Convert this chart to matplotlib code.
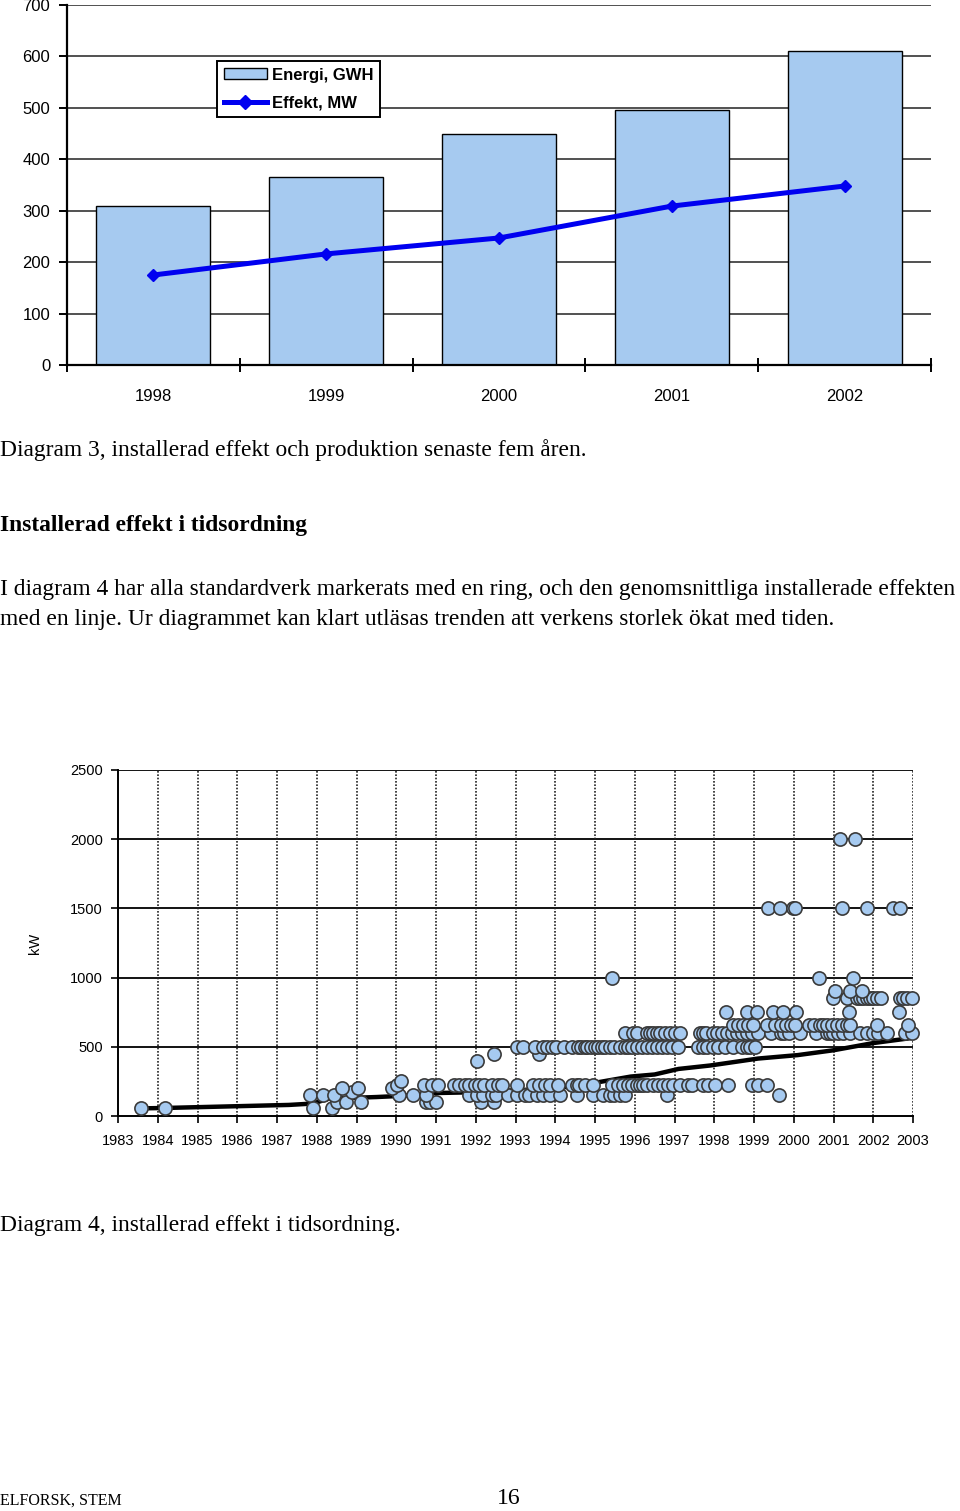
import matplotlib
matplotlib.use("Agg")
import matplotlib.pyplot as plt
from matplotlib.lines import Line2D
from matplotlib.patches import Patch

# Diagram 3: energy and power for the last five years
years_top = ["1998", "1999", "2000", "2001", "2002"]
energi_gwh = [310, 365, 450, 495, 610]
effekt_mw = [175, 216, 247, 309, 348]

# Diagram 4: installation time (decimal year) of each standard turbine, grouped by size
kw_sizes = [55, 100, 150, 175, 200, 225, 250, 400, 450, 500, 600, 660, 750, 850, 900, 1000, 1500, 2000]
years_55 = [1983.58, 1984.18, 1987.91, 1988.39]
years_100 = [1988.52, 1988.74, 1989.12, 1990.76, 1990.84, 1991.01, 1992.14, 1992.47]
years_150 = [1987.84, 1988.16, 1988.44, 1990.08, 1990.43, 1990.76, 1991.84, 1992.02, 1992.17,
             1992.40, 1992.52, 1992.80, 1993.03, 1993.23, 1993.35, 1993.53, 1993.68, 1993.86,
             1994.11, 1994.54, 1994.94, 1995.19, 1995.37, 1995.49, 1995.62, 1995.75, 1996.80,
             1999.63]
years_175 = [1988.89]
years_200 = [1988.64, 1989.05, 1989.90]
years_225 = [1990.03, 1990.71, 1990.91, 1991.04, 1991.46, 1991.59, 1991.72, 1991.84, 1991.97,
             1992.09, 1992.22, 1992.40, 1992.55, 1992.65, 1993.03, 1993.43, 1993.60, 1993.73,
             1993.86, 1994.06, 1994.41, 1994.54, 1994.61, 1994.74, 1994.94, 1995.42, 1995.57,
             1995.70, 1995.82, 1995.92, 1996.05, 1996.12, 1996.20, 1996.32, 1996.45, 1996.58,
             1996.70, 1996.83, 1996.95, 1997.13, 1997.33, 1997.43, 1997.71, 1997.84, 1998.01,
             1998.34, 1998.94, 1999.10, 1999.32]
years_250 = [1990.13]
years_400 = [1992.02]
years_450 = [1992.45, 1993.58]
years_500 = [1993.05, 1993.20, 1993.48, 1993.68, 1993.78, 1993.93, 1994.03, 1994.23, 1994.41,
             1994.56, 1994.66, 1994.74, 1994.81, 1994.91, 1994.99, 1995.07, 1995.17, 1995.24,
             1995.37, 1995.49, 1995.62, 1995.75, 1995.82, 1995.92, 1996.05, 1996.17, 1996.30,
             1996.43, 1996.55, 1996.68, 1996.80, 1996.93, 1997.08, 1997.58, 1997.71, 1997.81,
             1997.96, 1998.09, 1998.26, 1998.47, 1998.69, 1998.82, 1998.89, 1999.02]
years_600 = [1995.75, 1995.95, 1996.05, 1996.30, 1996.38, 1996.45, 1996.55, 1996.63, 1996.75,
             1996.88, 1997.01, 1997.13, 1997.64, 1997.72, 1997.79, 1997.96, 1998.06, 1998.19,
             1998.32, 1998.44, 1998.57, 1998.69, 1998.82, 1998.94, 1999.10, 1999.44, 1999.69,
             1999.76, 1999.89, 2000.15, 2000.57, 2000.83, 2000.91, 2000.98, 2001.11, 2001.24,
             2001.41, 2001.67, 2001.84, 2001.99, 2002.12, 2002.35, 2002.80, 2002.97]
years_660 = [1998.47, 1998.59, 1998.72, 1998.84, 1998.97, 1999.32, 1999.52, 1999.69, 1999.81,
             1999.94, 2000.02, 2000.39, 2000.52, 2000.65, 2000.73, 2000.83, 2000.96, 2001.09,
             2001.21, 2001.34, 2001.41, 2002.09, 2002.87]
years_750 = [1998.29, 1998.82, 1999.07, 1999.47, 1999.73, 2000.05, 2001.39, 2002.65]
years_850 = [2000.98, 2001.34, 2001.59, 2001.67, 2001.74, 2001.84, 2001.92, 2001.99, 2002.09,
             2002.19, 2002.67, 2002.75, 2002.85, 2002.97]
years_900 = [2001.04, 2001.41, 2001.72]
years_1000 = [1995.42, 2000.63, 2001.49]
years_1500 = [1999.35, 1999.65, 1999.98, 2000.03, 2001.21, 2001.84, 2002.50, 2002.67]
years_2000 = [2001.16, 2001.54]

# running average installed power
avg_years = [1983.58, 1984.18, 1987.30, 1987.90, 1988.30, 1989.50, 1990.10, 1991.00, 1991.70,
             1993.20, 1994.30, 1995.00, 1995.90, 1996.50, 1997.10, 1997.90, 1999.10, 2000.10,
             2001.00, 2002.00, 2002.95]
avg_kw = [55, 58, 80, 90, 125, 137, 145, 166, 170, 188, 210, 240, 285, 300, 340, 365, 415, 440,
          475, 527, 563]

size_years = [years_55, years_100, years_150, years_175, years_200, years_225, years_250,
              years_400, years_450, years_500, years_600, years_660, years_750, years_850,
              years_900, years_1000, years_1500, years_2000]

W, H = 960, 1511
fig = plt.figure(figsize=(W / 100, H / 100), dpi=100)
sans = "Liberation Sans"
serif = "Liberation Serif"
light_blue = "#A6CAF0"
body = 16.9


def fy(py):
    return 1 - py / H


# ---------- Diagram 3 ----------
ax1 = fig.add_axes([67 / W, fy(365), 864 / W, 360 / H])
xs = [i + 0.5 for i in range(len(years_top))]
ax1.bar(xs, energi_gwh, width=0.66, color=light_blue, edgecolor="black", linewidth=1.0, zorder=2)
ax1.plot(xs, effekt_mw, color="#0000F0", lw=3.6, marker="D", markersize=6, zorder=3)
ax1.set_xlim(0, 5)
ax1.set_ylim(0, 700)
ax1.set_yticks(range(0, 701, 100))
ax1.yaxis.grid(True, color="#222222", lw=1.1, zorder=0)
ax1.set_axisbelow(True)
for s in ["top", "right"]:
    ax1.spines[s].set_visible(False)
ax1.spines["left"].set_linewidth(1.6)
ax1.spines["bottom"].set_linewidth(1.6)
ax1.set_xticks(xs)
ax1.set_xticklabels(years_top)
ax1.set_xticks(range(0, 6), minor=True)
ax1.tick_params(axis="x", which="major", length=0, pad=17, labelsize=12)
ax1.tick_params(axis="x", which="minor", direction="inout", length=10, width=1.4)
ax1.tick_params(axis="y", length=6, width=1.4, pad=6, labelsize=12)
for lab in ax1.get_xticklabels() + ax1.get_yticklabels():
    lab.set_family(sans)

handles = [Patch(facecolor=light_blue, edgecolor="black", lw=1.0),
           Line2D([], [], color="#0000F0", lw=3.6, marker="D", markersize=7)]
leg = ax1.legend(handles, ["Energi, GWH", "Effekt, MW"], loc="upper left",
                 bbox_to_anchor=(150 / 864, (365 - 61) / 360), frameon=True, fancybox=False,
                 edgecolor="black", framealpha=1, borderpad=0.4, handlelength=2.6,
                 handleheight=0.6, handletextpad=0.3, labelspacing=0.75, borderaxespad=0,
                 prop={"family": sans, "weight": "bold", "size": 12})
leg.get_frame().set_linewidth(1.4)

# ---------- body text ----------
fig.text(0, fy(450), "Diagram 3, installerad effekt och produktion senaste fem åren.",
         family=serif, size=body, va="center", ha="left")
fig.text(0, fy(525), "Installerad effekt i tidsordning", family=serif, size=body,
         weight="bold", va="center", ha="left")
fig.text(0, fy(589), "I diagram 4 har alla standardverk markerats med en ring, och den "
         "genomsnittliga installerade effekten", family=serif, size=body, va="center", ha="left")
fig.text(0, fy(620), "med en linje. Ur diagrammet kan klart utläsas trenden att verkens "
         "storlek ökat med tiden.", family=serif, size=body, va="center", ha="left")
fig.text(0, fy(1226), "Diagram 4, installerad effekt i tidsordning.", family=serif, size=body,
         va="center", ha="left")
fig.text(0, fy(1501), "ELFORSK, STEM", family=serif, size=11.5, va="center", ha="left")
fig.text(509 / W, fy(1499), "16", family=serif, size=17, va="center", ha="center")

# ---------- Diagram 4 ----------
ax2 = fig.add_axes([118 / W, fy(1116), 795 / W, 346 / H])
ax2.plot(avg_years, avg_kw, color="black", lw=3.2, solid_capstyle="butt", zorder=2)
for kw, yrs in zip(kw_sizes, size_years):
    ax2.plot(yrs, [kw] * len(yrs), "o", markersize=9.5, markerfacecolor=light_blue,
             markeredgecolor="#3a3a3a", markeredgewidth=1.2, zorder=3, clip_on=False)
ax2.set_xlim(1983, 2003)
ax2.set_ylim(0, 2500)
ax2.set_yticks(range(0, 2501, 500))
ax2.set_xticks(range(1983, 2004))
for yv in range(500, 2501, 500):
    ax2.axhline(yv, color="black", lw=1.3, zorder=1)
for xv in range(1984, 2004):
    ax2.axvline(xv, color="#222222", lw=1.2, ls=(0, (1, 1)), zorder=1)
for s in ["top", "right"]:
    ax2.spines[s].set_visible(False)
ax2.spines["left"].set_linewidth(1.4)
ax2.spines["bottom"].set_linewidth(1.4)
ax2.tick_params(axis="x", length=5, width=1.2, pad=8, labelsize=10.5)
ax2.tick_params(axis="y", length=5, width=1.2, pad=6, labelsize=10.5)
for lab in ax2.get_xticklabels() + ax2.get_yticklabels():
    lab.set_family(sans)
ax2.set_ylabel("kW", family=sans, size=10.5, labelpad=20)

fig.savefig("out.png", dpi=100)
